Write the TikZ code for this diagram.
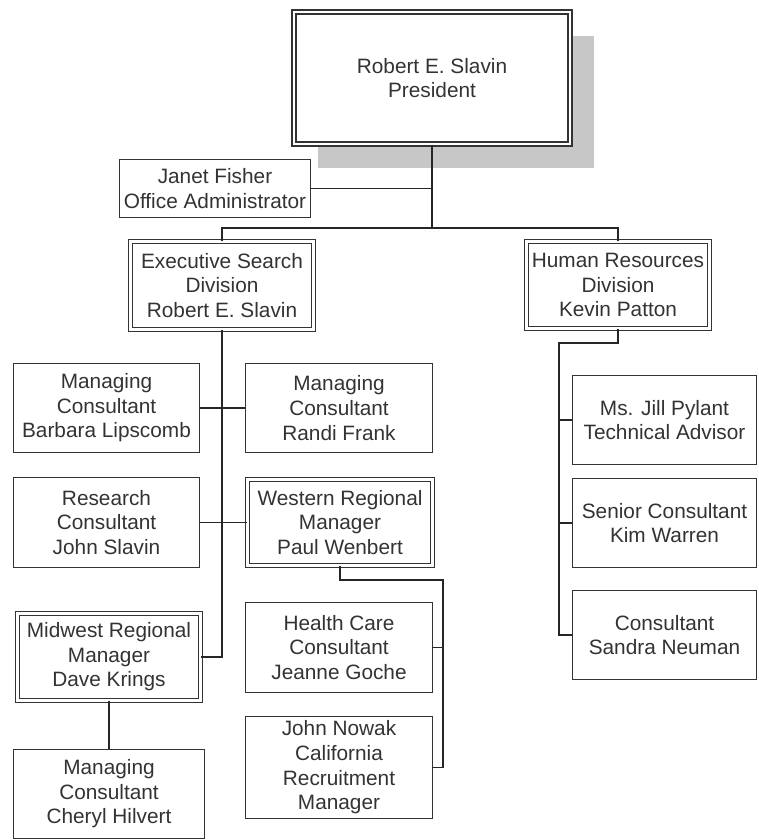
\documentclass[tikz,border=0pt]{standalone}
\usepackage{fontspec}
\setmainfont{Liberation Sans}
\usepackage{tikz}
\usetikzlibrary{shadows}
\newcommand{\orgfont}{\fontsize{20.8}{24.6}\selectfont}
\tikzset{
  box/.style={rectangle, draw=black!80, line width=1.3pt, fill=white, text=black!80,
              align=center, inner sep=0pt, font=\orgfont},
  % unit with sub-units: double frame
  dbox/.style={box, double=white, double distance=2.5pt},
  link/.style={draw=black!85, line width=1.6pt}
}

\begin{document}
\begin{tikzpicture}[x=1pt,y=-1pt]
  \useasboundingbox (0,0) rectangle (758,840);

  % top
  \node[dbox, minimum width=276pt, minimum height=132pt,
        drop shadow={shadow xshift=24pt, shadow yshift=-24pt, fill=black!22, opacity=1}]
    (pres) at (432,78) {Robert E. Slavin\\President};
  \node[box, minimum width=191pt, minimum height=58pt] (admin) at (215,188.5) {Janet Fisher\\Office Administrator};

  % divisions
  \node[dbox, minimum width=183pt, minimum height=88pt] (exec) at (222,285.5) {Executive Search\\Division\\Robert E. Slavin};
  \node[dbox, minimum width=183pt, minimum height=87pt] (hr) at (618,285) {Human Resources\\Division\\Kevin Patton};

  % executive search
  \node[box, minimum width=186pt, minimum height=89pt] (mc1) at (106.5,408) {Managing\\Consultant\\Barbara Lipscomb};
  \node[box, minimum width=187pt, minimum height=89pt] (mc2) at (339,408) {Managing\\Consultant\\Randi Frank};
  \node[box, minimum width=186pt, minimum height=90pt] (research) at (106.5,522.5) {Research\\Consultant\\John Slavin};
  \node[dbox, minimum width=185pt, minimum height=86pt] (western) at (340,522.5) {Western Regional\\Manager\\Paul Wenbert};
  \node[dbox, minimum width=183pt, minimum height=87pt] (midwest) at (109,657) {Midwest Regional\\Manager\\Dave Krings};
  \node[box, minimum width=191pt, minimum height=89pt] (mc3) at (109,794) {Managing\\Consultant\\Cheryl Hilvert};
  \node[box, minimum width=187pt, minimum height=90pt] (health) at (339,647.5) {Health Care\\Consultant\\Jeanne Goche};
  \node[box, minimum width=187pt, minimum height=102pt] (nowak) at (339,767.5) {John Nowak\\California\\Recruitment\\Manager};

  % human resources
  \node[box, minimum width=184pt, minimum height=89pt] (pylant) at (664.5,420) {Ms. Jill Pylant\\Technical Advisor};
  \node[box, minimum width=184pt, minimum height=89pt] (warren) at (664.5,523) {Senior Consultant\\Kim Warren};
  \node[box, minimum width=184pt, minimum height=89pt] (neuman) at (664.5,635) {Consultant\\Sandra Neuman};

  % connectors
  \coordinate (bar) at (432,228);
  \coordinate (wk) at (443,580);
  \coordinate (hk) at (559,343);
  \draw[link] (pres.south) -- (bar);
  \draw[link] (admin.east) -- (admin.east -| bar);
  \draw[link] (exec.north) |- (bar) -| (hr.north);
  \draw[link] (exec.south) |- (midwest.east);
  \draw[link] (mc1.east) -- (mc2.west);
  \draw[link] (research.east) -- (western.west);
  \draw[link] (midwest.south) -- (mc3.north);
  \draw[link] (western.south) |- (wk) |- (nowak.east);
  \draw[link] (health.east) -- (health.east -| wk);
  \draw[link] (hr.south) |- (hk) |- (neuman.west);
  \draw[link] (pylant.west) -- (pylant.west -| hk);
  \draw[link] (warren.west) -- (warren.west -| hk);
\end{tikzpicture}
\end{document}
